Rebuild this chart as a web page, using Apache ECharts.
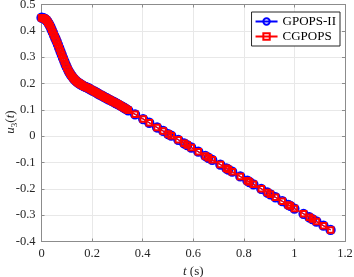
<!DOCTYPE html>
<html><head><meta charset="utf-8">
<script src="https://cdn.jsdelivr.net/npm/echarts@6/dist/echarts.min.js"></script>
<style>html,body{margin:0;padding:0;background:#fff}#c{width:354px;height:277px}</style>
</head><body><div id="c"></div>
<script>
const timeS = [0,0.005,0.01,0.015,0.02,0.025,0.03,0.035,0.04,0.045,0.05,0.055,0.06,0.065,0.07,0.075,0.08,0.085,0.09,0.095,0.10,0.105,0.11,0.115,0.12,0.125,0.13,0.135,0.14,0.145,0.15,0.155,0.16,0.167,0.174,0.181,0.188,0.195,0.202,0.209,0.216,0.223,0.23,0.237,0.244,0.251,0.258,0.265,0.272,0.279,0.286,0.293,0.30,0.307,0.314,0.321,0.328,0.335,
0.343,0.370,0.402,0.426,0.457,0.481,0.501,0.513,0.541,0.564,0.576,0.592,0.620,0.648,0.660,0.675,0.707,0.731,0.739,0.754,0.786,0.814,0.822,0.838,0.869,0.893,0.905,0.925,0.952,0.976,0.984,1.000,1.036,1.059,1.071,1.087,1.115,1.143];
const u3Gpops = [0.450,0.449,0.447,0.444,0.440,0.433,0.425,0.416,0.405,0.394,0.382,0.371,0.360,0.348,0.335,0.322,0.310,0.297,0.285,0.273,0.262,0.252,0.243,0.235,0.228,0.222,0.216,0.211,0.207,0.203,0.200,0.197,0.194,0.190,0.187,0.184,0.181,0.177,0.173,0.170,0.166,0.162,0.158,0.155,0.151,0.147,0.144,0.140,0.137,0.133,0.130,0.126,0.123,0.119,0.115,0.111,0.107,0.103,
0.098,0.083,0.065,0.051,0.033,0.020,0.008,0.002,-0.014,-0.027,-0.034,-0.043,-0.059,-0.075,-0.082,-0.090,-0.108,-0.122,-0.127,-0.135,-0.153,-0.169,-0.174,-0.183,-0.200,-0.214,-0.221,-0.232,-0.247,-0.261,-0.265,-0.275,-0.295,-0.308,-0.315,-0.324,-0.340,-0.356];
const u3Cgpops = u3Gpops.slice();
const seriesNames = ['GPOPS-II','CGPOPS'];
const xTicks = {min:0, max:1.2, interval:0.2};
const yTicks = {min:-0.4, max:0.5, interval:0.1};

const font = 'Liberation Serif';
const axisGray = '#8c8c8c';
const pairs = (xs, ys) => xs.map((x,i)=>[x,ys[i]]);
const fmt = v => { const r = Math.round(v*10)/10; return r===0 ? '0' : String(r); };

const chart = echarts.init(document.getElementById('c'), null, {renderer:'canvas'});
chart.setOption({
  animation:false,
  grid:{left:41.5, right:9, top:4.5, bottom:35.5, show:false, containLabel:false, outerBoundsMode:'none'},
  legend:{
    right:14, top:12, orient:'vertical', itemGap:2, itemWidth:22, itemHeight:8,
    backgroundColor:'#fff', borderColor:'#262626', borderWidth:1, padding:[3,4,3,3],
    textStyle:{fontFamily:font, fontSize:13, color:'#000'},
    data:seriesNames
  },
  graphic:[{
    type:'text', x:11, y:122, rotation:Math.PI/2,
    style:{
      text:'{i|u}{s|3}{n|(}{i|t}{n|)}', align:'center', verticalAlign:'middle',
      fill:'#262626', fontFamily:font, fontSize:13,
      rich:{i:{fontStyle:'italic', fontFamily:font, fontSize:13, fill:'#262626'},
            s:{fontFamily:font, fontSize:9, fill:'#262626', padding:[7,0,0,0]},
            n:{fontFamily:font, fontSize:13, fill:'#262626'}}
    }
  }],
  xAxis:[{
    type:'value', min:xTicks.min, max:xTicks.max, interval:xTicks.interval,
    name:'{i|t} (s)', nameLocation:'middle', nameGap:22,
    nameTextStyle:{fontFamily:font, fontSize:13, color:'#262626', rich:{i:{fontStyle:'italic', fontFamily:font, fontSize:13}}},
    axisLine:{show:true, onZero:false, lineStyle:{color:axisGray, width:1}},
    axisTick:{show:true, inside:true, length:3, lineStyle:{color:axisGray}},
    axisLabel:{fontFamily:font, fontSize:12.5, color:'#262626', margin:6, formatter:fmt},
    splitLine:{show:true, lineStyle:{color:'#e8e8e8', width:1}}
  },{
    type:'value', position:'top', min:xTicks.min, max:xTicks.max, interval:xTicks.interval,
    axisLine:{show:true, onZero:false, lineStyle:{color:axisGray, width:1}},
    axisTick:{show:true, inside:true, length:3, lineStyle:{color:axisGray}},
    axisLabel:{show:false}, splitLine:{show:false}
  }],
  yAxis:[{
    type:'value', min:yTicks.min, max:yTicks.max, interval:yTicks.interval,
    axisLine:{show:true, onZero:false, lineStyle:{color:axisGray, width:1}},
    axisTick:{show:true, inside:true, length:3, lineStyle:{color:axisGray}},
    axisLabel:{fontFamily:font, fontSize:12.5, color:'#262626', margin:6, formatter:fmt},
    splitLine:{show:true, lineStyle:{color:'#e8e8e8', width:1}}
  },{
    type:'value', position:'right', min:yTicks.min, max:yTicks.max, interval:yTicks.interval,
    axisLine:{show:true, onZero:false, lineStyle:{color:axisGray, width:1}},
    axisTick:{show:true, inside:true, length:3, lineStyle:{color:axisGray}},
    axisLabel:{show:false}, splitLine:{show:false}
  }],
  series:[{
    name:seriesNames[0], type:'line', data:pairs(timeS,u3Gpops),
    symbol:'circle', symbolSize:8.5, showAllSymbol:true,
    lineStyle:{color:'#0000ff', width:1.2},
    itemStyle:{color:'rgba(255,255,255,0)', borderColor:'#0000ff', borderWidth:1.8},
    emphasis:{disabled:true}, z:2
  },{
    name:seriesNames[1], type:'line', data:pairs(timeS,u3Cgpops),
    symbol:'rect', symbolSize:5.5, showAllSymbol:true,
    lineStyle:{color:'#ff0000', width:1.2},
    itemStyle:{color:'rgba(255,255,255,0)', borderColor:'#ff0000', borderWidth:2},
    emphasis:{disabled:true}, z:3
  }]
});
</script></body></html>
